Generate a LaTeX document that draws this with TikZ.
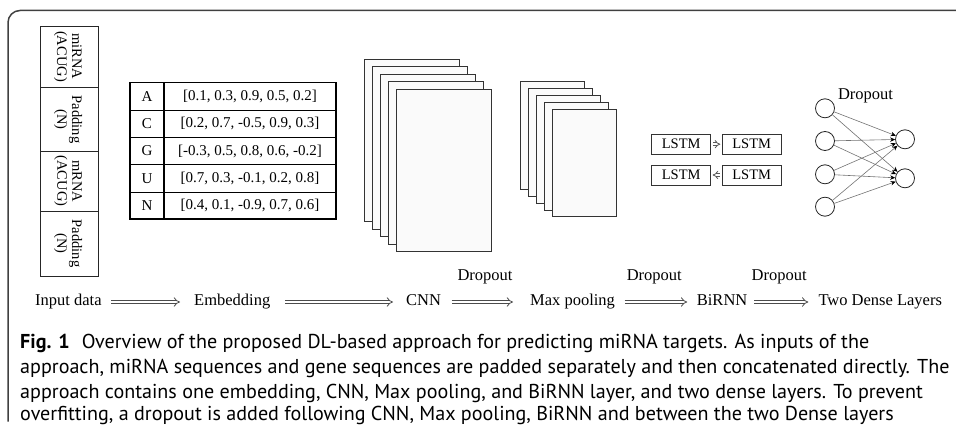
\documentclass[tikz,border=0pt]{standalone}
\usepackage{fontspec}
\setmainfont{Liberation Serif}
\newfontfamily\capfont{PT Sans}
\usetikzlibrary{arrows.meta}
\begin{document}
\begin{tikzpicture}[x=1pt,y=-1pt,
  lbl/.style={inner sep=0, font=\fontsize{16.5}{18}\selectfont},
  frame/.style={line width=1.5pt, draw=black!75},
  inbox/.style={draw=black!85, line width=0.8pt},
  intext/.style={rotate=-90, align=center, inner sep=0, font=\fontsize{14.5}{15}\selectfont},
  celltext/.style={inner sep=0, font=\fontsize{15}{16}\selectfont},
  sheet/.style={draw=black!80, line width=0.9pt, fill=black!2},
  lstm/.style={draw=black!80, line width=0.8pt, minimum width=59pt, minimum height=20pt, inner sep=0, font=\fontsize{14.5}{15}\selectfont},
  tinyarrow/.style={draw=black!65, line width=0.8pt, double=white, double distance=2pt, -{Implies}},
  neuron/.style={circle, draw=black!85, line width=0.8pt, minimum size=19pt, inner sep=0},
  synapse/.style={draw=black!55, line width=0.6pt, -{Stealth[length=5pt,width=4.5pt,black]}},
  dblarrow/.style={draw=black!70, line width=0.8pt, double=white, double distance=2.4pt, -{Implies}},
  captxt/.style={inner sep=0, anchor=base west, font=\capfont\fontsize{20.1}{23}\selectfont}
]
\useasboundingbox (0,0) rectangle (956,425);

% frame
\draw[frame, rounded corners=12pt] (8,421.5) -- (8,10.5) -- (957,10.5);

% input data column
\draw[inbox] (40,26) rectangle (98,276);
\draw[inbox] (40,87) -- (98,87);
\draw[inbox] (40,151.5) -- (98,151.5);
\draw[inbox] (40,211) -- (98,211);
\node[intext] (in1) at (68,56.5) {miRNA\\(ACUG)};
\node[intext] (in2) at (68,119.5) {Padding\\(N)};
\node[intext] (in3) at (68,181) {mRNA\\(ACUG)};
\node[intext] (in4) at (68,243.5) {Padding\\(N)};

% embedding table
\draw[line width=0.8pt] (130,110) -- (336,110);
\draw[line width=0.8pt] (130,137.3) -- (336,137.3);
\draw[line width=0.8pt] (130,164.6) -- (336,164.6);
\draw[line width=0.8pt] (130,191.9) -- (336,191.9);
\draw[line width=1.6pt] (164,82.7) -- (164,219.2);
\draw[line width=1.6pt] (130,82.7) rectangle (336,219.2);
\node[celltext] (ka) at (147,96.4) {A};
\node[celltext] (kc) at (147,123.7) {C};
\node[celltext] (kg) at (147,151) {G};
\node[celltext] (ku) at (147,178.3) {U};
\node[celltext] (kn) at (147,205.6) {N};
\node[celltext] (va) at (250,96.4) {[0.1, 0.3, 0.9, 0.5, 0.2]};
\node[celltext] (vc) at (250,123.7) {[0.2, 0.7, -0.5, 0.9, 0.3]};
\node[celltext] (vg) at (250,151) {[-0.3, 0.5, 0.8, 0.6, -0.2]};
\node[celltext] (vu) at (250,178.3) {[0.7, 0.3, -0.1, 0.2, 0.8]};
\node[celltext] (vn) at (250,205.6) {[0.4, 0.1, -0.9, 0.7, 0.6]};

% CNN sheets
\foreach \i in {0,...,4}{
  \draw[sheet] (364.7+8*\i,59.3+7.5*\i) rectangle (459.3+8*\i,221.7+7.5*\i);
}
% Max pooling sheets
\foreach \i in {0,...,4}{
  \draw[sheet] (520+8.1*\i,81.7+6.9*\i) rectangle (584+8.1*\i,189.3+6.9*\i);
}

% BiRNN
\node[lstm] (l1) at (681.2,144.2) {LSTM};
\node[lstm] (l2) at (751.7,144.2) {LSTM};
\node[lstm] (l3) at (681.2,175) {LSTM};
\node[lstm] (l4) at (751.7,175) {LSTM};
\draw[tinyarrow, shorten <=2pt, shorten >=1.5pt] (l1.east) -- (l2.west);
\draw[tinyarrow, shorten <=2pt, shorten >=1.5pt] (l4.west) -- (l3.east);

% Dense layers
\node[neuron] (n1) at (825,108.3) {};
\node[neuron] (n2) at (825,141) {};
\node[neuron] (n3) at (825,174.3) {};
\node[neuron] (n4) at (825,206.7) {};
\node[neuron] (m1) at (905,139.3) {};
\node[neuron] (m2) at (905,178.3) {};
\foreach \a in {n1,n2,n3,n4}{
  \foreach \b in {m1,m2}{
    \draw[synapse] (\a) -- (\b);
  }
}
\node[lbl, anchor=base] (dd) at (865.5,100) {Dropout};

% bottom pipeline
\node[lbl, anchor=base west] (p1) at (35,305.5) {Input data};
\node[lbl, anchor=base west] (p2) at (194,305.5) {Embedding};
\node[lbl, anchor=base west] (p3) at (406,305.5) {CNN};
\node[lbl, anchor=base west] (p4) at (530,305.5) {Max pooling};
\node[lbl, anchor=base west] (p5) at (696.7,305.5) {BiRNN};
\node[lbl, anchor=base west] (p6) at (818.3,305.5) {Two Dense Layers};
\draw[dblarrow, shorten <=9.5pt, shorten >=14pt] ([yshift=3.5pt]p1.base east) -- ([yshift=3.5pt]p2.base west);
\draw[dblarrow, shorten <=15pt, shorten >=13pt] ([yshift=3.5pt]p2.base east) -- ([yshift=3.5pt]p3.base west);
\draw[dblarrow, shorten <=10.5pt, shorten >=17pt] ([yshift=3.5pt]p3.base east) -- ([yshift=3.5pt]p4.base west);
\draw[dblarrow, shorten <=9.5pt, shorten >=9.5pt] ([yshift=3.5pt]p4.base east) -- ([yshift=3.5pt]p5.base west);
\draw[dblarrow, shorten <=6.5pt, shorten >=10pt] ([yshift=3.5pt]p5.base east) -- ([yshift=3.5pt]p6.base west);
\node[lbl, anchor=base] (d1) at (485,280) {Dropout};
\node[lbl, anchor=base] (d2) at (654.3,280) {Dropout};
\node[lbl, anchor=base] (d3) at (779.2,280) {Dropout};

% caption
\node[captxt] (c1) at (20,348) {\textbf{Fig. 1}\hspace{0.6em}Overview of the proposed DL-based approach for predicting miRNA targets. As inputs of the};
\node[captxt] (c2) at (20,373.5) {approach, miRNA sequences and gene sequences are padded separately and then concatenated directly. The};
\node[captxt] (c3) at (20,398.5) {approach contains one embedding, CNN, Max pooling, and BiRNN layer, and two dense layers. To prevent};
\node[captxt] (c4) at (20,420) {overfitting, a dropout is added following CNN, Max pooling, BiRNN and between the two Dense layers};
\end{tikzpicture}
\end{document}
